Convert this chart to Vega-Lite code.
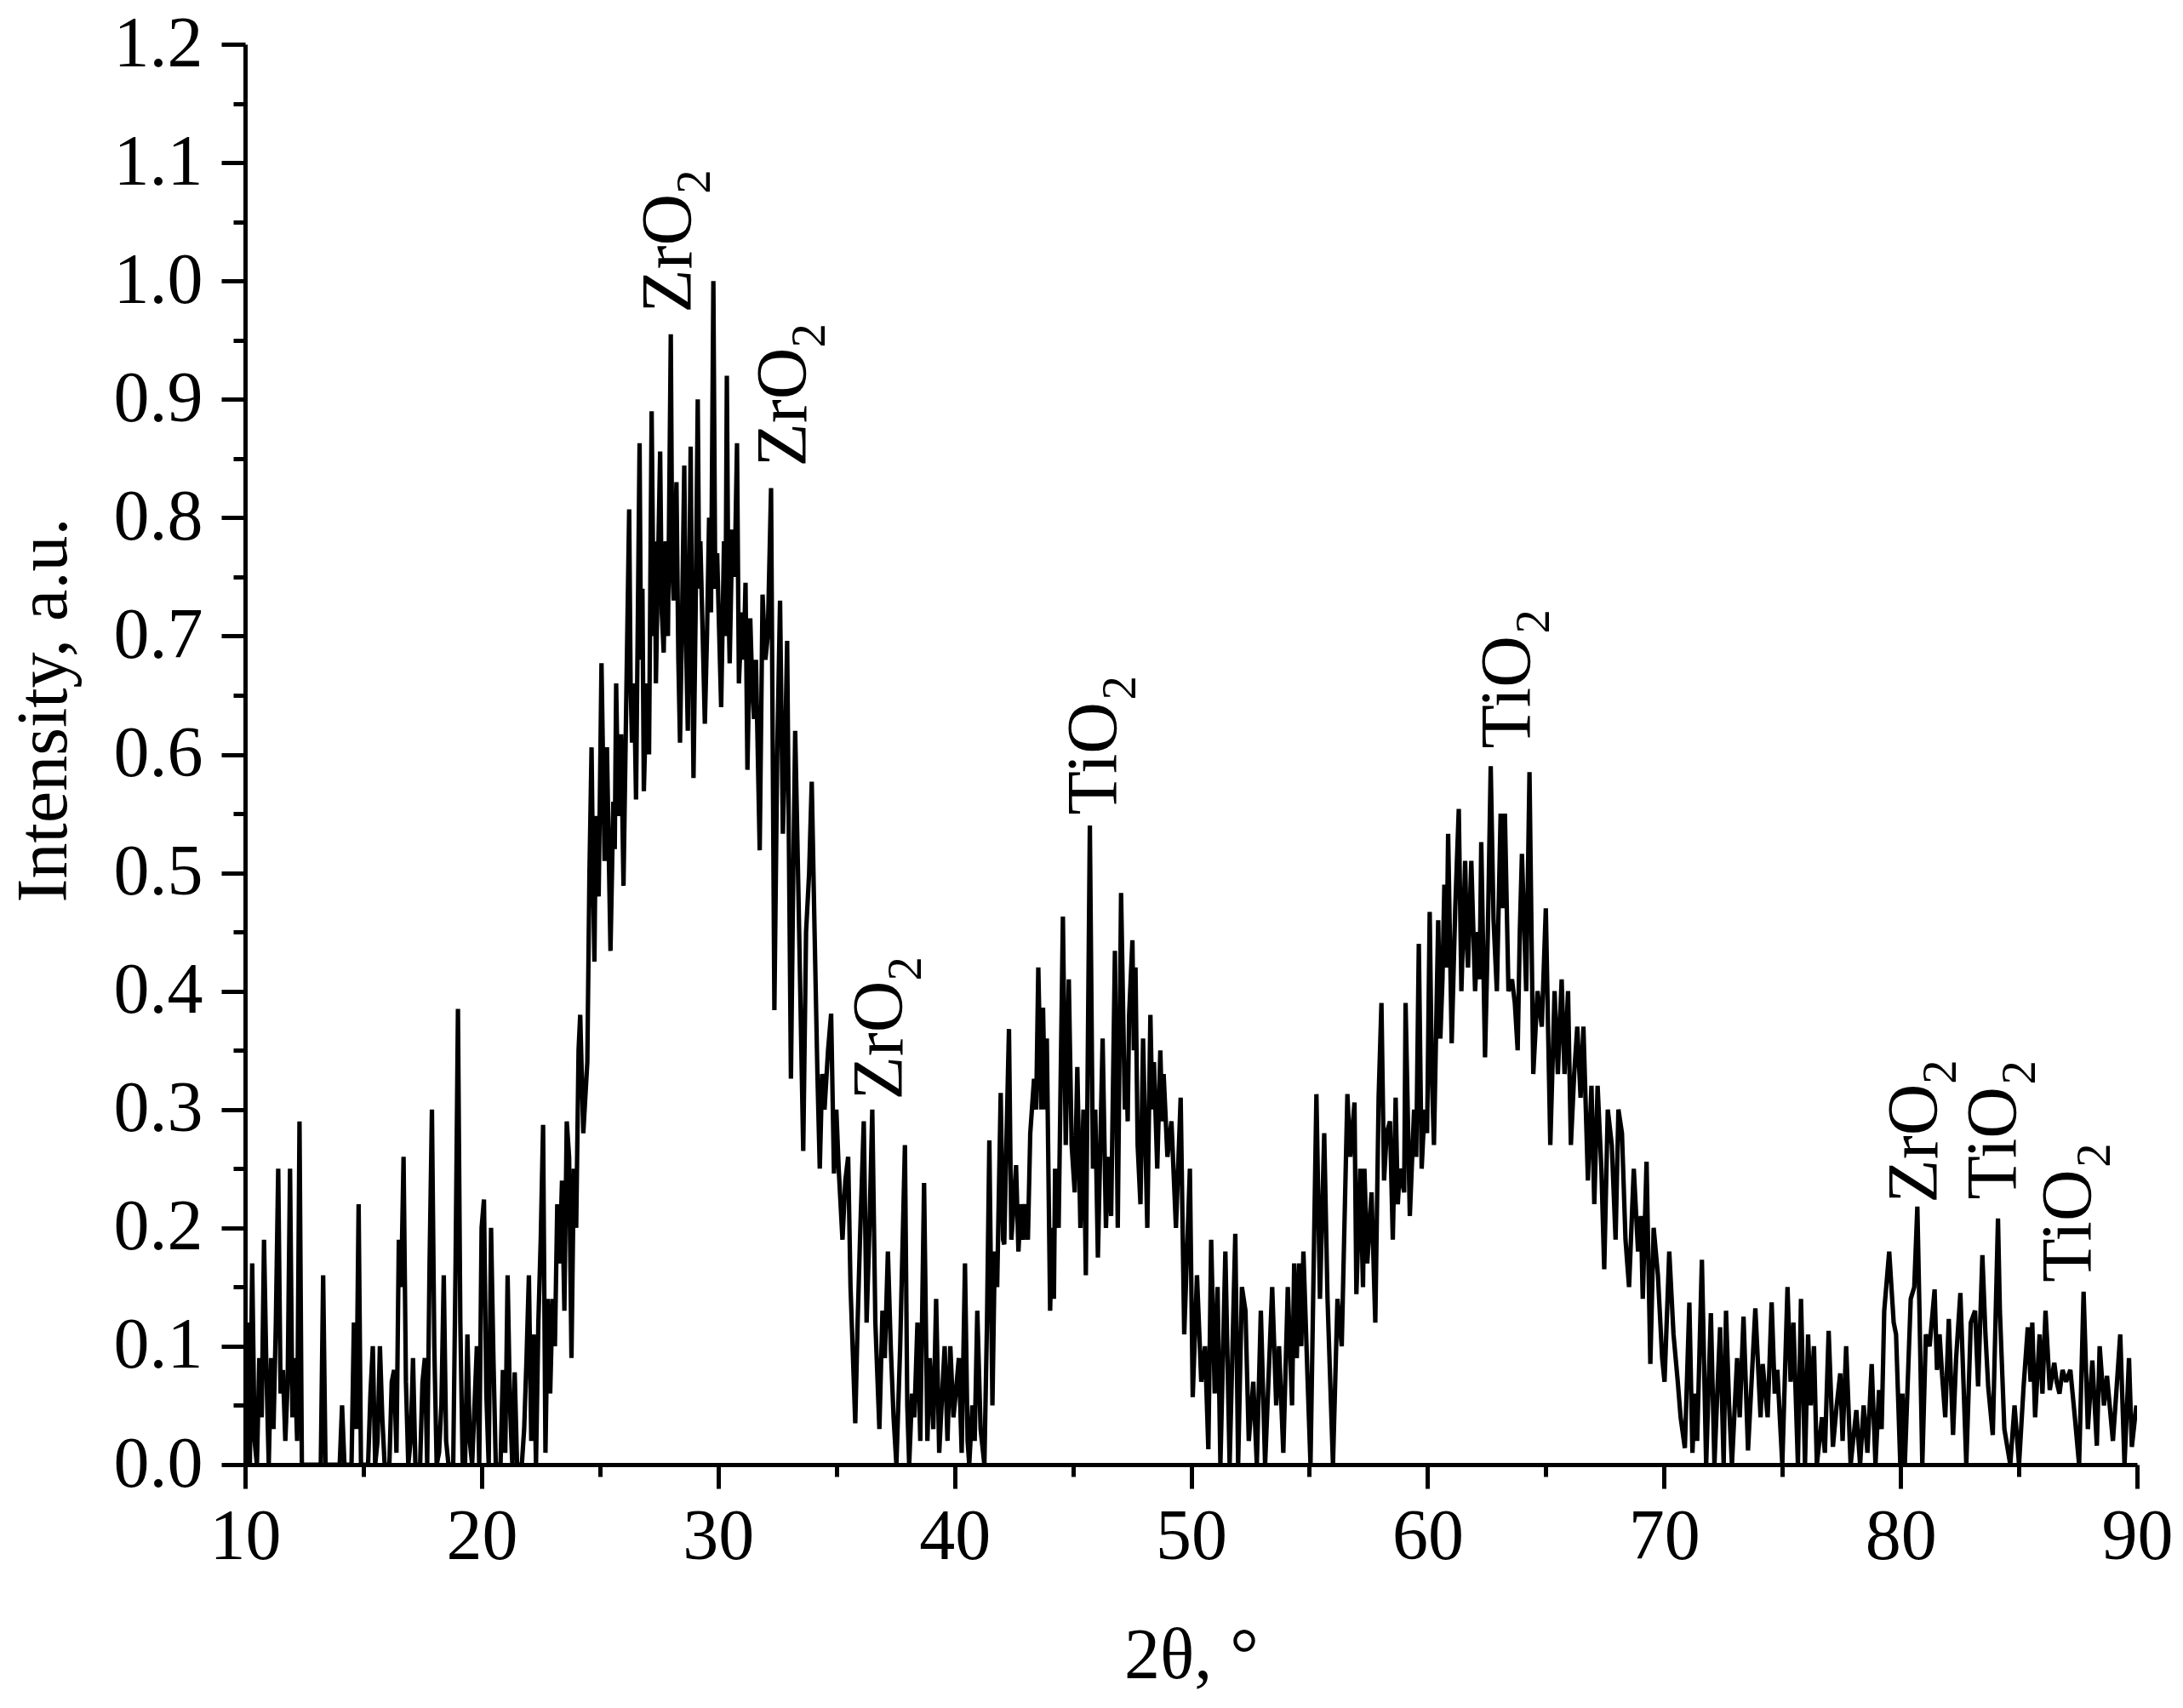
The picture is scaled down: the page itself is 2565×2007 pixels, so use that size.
{
  "$schema": "https://vega.github.io/schema/vega-lite/v6.json",
  "width": 2223,
  "height": 1669,
  "autosize": {"type": "none"},
  "padding": {"left": 288, "top": 52, "right": 54, "bottom": 286},
  "background": "white",
  "config": {
    "view": {"stroke": null},
    "font": "Liberation Serif",
    "axis": {"grid": false, "domainColor": "black", "tickColor": "black", "labelColor": "black", "titleColor": "black", "labelFont": "Liberation Serif", "titleFont": "Liberation Serif", "domainWidth": 5, "tickWidth": 5}
  },
  "datasets": {
    "xrd": [
      {"t":10.0,"v":0},{"t":10.1,"v":0.12},{"t":10.2,"v":0},{"t":10.3,"v":0.17},{"t":10.4,"v":0.02},{"t":10.5,"v":0},{"t":10.6,"v":0.09},{"t":10.7,"v":0.04},{"t":10.8,"v":0.19},{"t":10.9,"v":0.08},
      {"t":11.0,"v":0},{"t":11.1,"v":0.09},{"t":11.2,"v":0.03},{"t":11.3,"v":0.12},{"t":11.4,"v":0.25},{"t":11.5,"v":0.06},{"t":11.6,"v":0.08},{"t":11.7,"v":0.02},{"t":11.8,"v":0.07},{"t":11.9,"v":0.25},
      {"t":12.0,"v":0.04},{"t":12.1,"v":0.09},{"t":12.2,"v":0.02},{"t":12.3,"v":0.29},{"t":12.4,"v":0},{"t":13.2,"v":0},{"t":13.3,"v":0.16},{"t":13.4,"v":0},{"t":14.0,"v":0},{"t":14.1,"v":0.05},
      {"t":14.2,"v":0},{"t":14.5,"v":0},{"t":14.6,"v":0.12},{"t":14.7,"v":0.03},{"t":14.8,"v":0.22},{"t":14.9,"v":0},{"t":15.2,"v":0},{"t":15.3,"v":0.06},{"t":15.4,"v":0.1},{"t":15.5,"v":0},
      {"t":15.6,"v":0.02},{"t":15.7,"v":0.1},{"t":15.8,"v":0.04},{"t":15.9,"v":0},{"t":16.1,"v":0},{"t":16.2,"v":0.07},{"t":16.3,"v":0.08},{"t":16.4,"v":0.01},{"t":16.5,"v":0.19},{"t":16.6,"v":0.15},
      {"t":16.7,"v":0.26},{"t":16.8,"v":0.07},{"t":16.9,"v":0},{"t":17.0,"v":0.02},{"t":17.1,"v":0.09},{"t":17.2,"v":0},{"t":17.4,"v":0},{"t":17.5,"v":0.07},{"t":17.6,"v":0.09},{"t":17.7,"v":0},
      {"t":17.8,"v":0.17},{"t":17.9,"v":0.3},{"t":18.0,"v":0.1},{"t":18.1,"v":0},{"t":18.2,"v":0.01},{"t":18.3,"v":0.05},{"t":18.4,"v":0.16},{"t":18.5,"v":0.02},{"t":18.6,"v":0},{"t":18.8,"v":0},
      {"t":18.9,"v":0.17},{"t":19.0,"v":0.385},{"t":19.1,"v":0.12},{"t":19.2,"v":0},{"t":19.3,"v":0},{"t":19.4,"v":0.11},{"t":19.5,"v":0.02},{"t":19.6,"v":0},{"t":19.7,"v":0.05},{"t":19.8,"v":0.1},
      {"t":19.9,"v":0},{"t":20.0,"v":0.2},{"t":20.1,"v":0.224},{"t":20.2,"v":0.06},{"t":20.3,"v":0},{"t":20.4,"v":0.2},{"t":20.5,"v":0.09},{"t":20.6,"v":0},{"t":20.8,"v":0},{"t":20.9,"v":0.08},
      {"t":21.0,"v":0.01},{"t":21.1,"v":0.16},{"t":21.2,"v":0.05},{"t":21.3,"v":0},{"t":21.4,"v":0.078},{"t":21.5,"v":0},{"t":21.7,"v":0},{"t":21.8,"v":0.03},{"t":21.9,"v":0.09},{"t":22.0,"v":0.16},
      {"t":22.1,"v":0.02},{"t":22.2,"v":0.11},{"t":22.3,"v":0},{"t":22.4,"v":0.12},{"t":22.5,"v":0.19},{"t":22.6,"v":0.287},{"t":22.7,"v":0.01},{"t":22.8,"v":0.14},{"t":22.9,"v":0.06},{"t":23.0,"v":0.14},
      {"t":23.1,"v":0.1},{"t":23.2,"v":0.22},{"t":23.3,"v":0.17},{"t":23.4,"v":0.24},{"t":23.5,"v":0.13},{"t":23.6,"v":0.29},{"t":23.7,"v":0.26},{"t":23.8,"v":0.09},{"t":23.9,"v":0.25},{"t":24.0,"v":0.2},
      {"t":24.1,"v":0.35},{"t":24.17,"v":0.38},{"t":24.3,"v":0.28},{"t":24.47,"v":0.34},{"t":24.56,"v":0.5},{"t":24.65,"v":0.606},{"t":24.71,"v":0.5},{"t":24.77,"v":0.425},{"t":24.83,"v":0.548},{"t":24.95,"v":0.48},{"t":25.07,"v":0.677},
      {"t":25.2,"v":0.51},{"t":25.3,"v":0.606},{"t":25.45,"v":0.434},{"t":25.57,"v":0.56},{"t":25.63,"v":0.52},{"t":25.69,"v":0.66},{"t":25.78,"v":0.548},{"t":25.9,"v":0.617},{"t":26.0,"v":0.489},{"t":26.12,"v":0.65},{"t":26.24,"v":0.807},
      {"t":26.3,"v":0.66},{"t":26.36,"v":0.61},{"t":26.45,"v":0.66},{"t":26.53,"v":0.562},{"t":26.68,"v":0.863},{"t":26.74,"v":0.68},{"t":26.8,"v":0.74},{"t":26.86,"v":0.569},{"t":26.98,"v":0.66},{"t":27.08,"v":0.6},{"t":27.19,"v":0.89},{"t":27.28,"v":0.7},{"t":27.33,"v":0.78},{"t":27.37,"v":0.66},
      {"t":27.45,"v":0.75},{"t":27.55,"v":0.856},{"t":27.62,"v":0.72},{"t":27.7,"v":0.686},{"t":27.78,"v":0.78},{"t":27.88,"v":0.7},{"t":28.0,"v":0.955},{"t":28.06,"v":0.76},{"t":28.12,"v":0.73},{"t":28.24,"v":0.83},{"t":28.32,"v":0.68},{"t":28.39,"v":0.61},
      {"t":28.48,"v":0.72},{"t":28.57,"v":0.844},{"t":28.64,"v":0.7},{"t":28.72,"v":0.62},{"t":28.84,"v":0.86},{"t":28.9,"v":0.7},{"t":28.96,"v":0.58},{"t":29.05,"v":0.72},{"t":29.14,"v":0.9},{"t":29.2,"v":0.74},{"t":29.25,"v":0.78},{"t":29.35,"v":0.7},
      {"t":29.44,"v":0.626},{"t":29.53,"v":0.7},{"t":29.62,"v":0.8},{"t":29.7,"v":0.72},{"t":29.8,"v":1.0},{"t":29.88,"v":0.74},{"t":29.96,"v":0.77},{"t":30.05,"v":0.7},{"t":30.13,"v":0.64},{"t":30.25,"v":0.78},{"t":30.31,"v":0.7},{"t":30.37,"v":0.92},{"t":30.43,"v":0.74},{"t":30.49,"v":0.677},
      {"t":30.6,"v":0.79},{"t":30.7,"v":0.75},{"t":30.8,"v":0.863},{"t":30.88,"v":0.66},{"t":31.0,"v":0.72},{"t":31.08,"v":0.68},{"t":31.16,"v":0.745},{"t":31.24,"v":0.587},{"t":31.36,"v":0.715},{"t":31.44,"v":0.66},
      {"t":31.52,"v":0.63},{"t":31.6,"v":0.68},{"t":31.76,"v":0.519},{"t":31.88,"v":0.735},{"t":32.0,"v":0.68},{"t":32.1,"v":0.7},{"t":32.24,"v":0.825},{"t":32.38,"v":0.384},{"t":32.5,"v":0.6},{"t":32.62,"v":0.73},
      {"t":32.74,"v":0.533},{"t":32.85,"v":0.62},{"t":32.92,"v":0.696},{"t":33.08,"v":0.326},{"t":33.18,"v":0.5},{"t":33.26,"v":0.62},{"t":33.4,"v":0.48},{"t":33.6,"v":0.265},{"t":33.72,"v":0.45},{"t":33.85,"v":0.5},
      {"t":33.96,"v":0.577},{"t":34.08,"v":0.45},{"t":34.2,"v":0.33},{"t":34.3,"v":0.25},{"t":34.4,"v":0.33},{"t":34.5,"v":0.3},{"t":34.65,"v":0.35},{"t":34.78,"v":0.381},{"t":34.9,"v":0.246},{"t":35.0,"v":0.3},
      {"t":35.1,"v":0.25},{"t":35.26,"v":0.19},{"t":35.38,"v":0.24},{"t":35.5,"v":0.26},{"t":35.6,"v":0.15},{"t":35.8,"v":0.035},{"t":35.9,"v":0.12},{"t":36.0,"v":0.19},{"t":36.16,"v":0.29},{"t":36.28,"v":0.12},
      {"t":36.4,"v":0.2},{"t":36.52,"v":0.3},{"t":36.65,"v":0.12},{"t":36.82,"v":0.03},{"t":36.95,"v":0.13},{"t":37.05,"v":0.09},{"t":37.18,"v":0.18},{"t":37.3,"v":0.1},{"t":37.42,"v":0.04},{"t":37.54,"v":0},
      {"t":37.7,"v":0.1},{"t":37.9,"v":0.27},{"t":38.0,"v":0.05},{"t":38.08,"v":0},{"t":38.2,"v":0.06},{"t":38.3,"v":0.04},{"t":38.43,"v":0.12},{"t":38.55,"v":0.02},{"t":38.71,"v":0.238},{"t":38.85,"v":0.02},
      {"t":38.95,"v":0.09},{"t":39.1,"v":0.03},{"t":39.22,"v":0.14},{"t":39.35,"v":0.01},{"t":39.45,"v":0.05},{"t":39.58,"v":0.1},{"t":39.7,"v":0.02},{"t":39.82,"v":0.1},{"t":39.95,"v":0.04},{"t":40.05,"v":0.06},
      {"t":40.18,"v":0.09},{"t":40.3,"v":0.01},{"t":40.44,"v":0.17},{"t":40.55,"v":0.02},{"t":40.62,"v":0},{"t":40.75,"v":0.05},{"t":40.85,"v":0.02},{"t":40.96,"v":0.13},{"t":41.1,"v":0.03},{"t":41.26,"v":0},
      {"t":41.37,"v":0.12},{"t":41.47,"v":0.274},{"t":41.6,"v":0.05},{"t":41.7,"v":0.18},{"t":41.8,"v":0.15},{"t":41.95,"v":0.314},{"t":42.05,"v":0.19},{"t":42.1,"v":0.186},{"t":42.2,"v":0.28},{"t":42.3,"v":0.368},
      {"t":42.4,"v":0.19},{"t":42.5,"v":0.22},{"t":42.6,"v":0.253},{"t":42.7,"v":0.18},{"t":42.8,"v":0.22},{"t":42.9,"v":0.19},{"t":42.99,"v":0.22},{"t":43.1,"v":0.19},{"t":43.2,"v":0.28},{"t":43.36,"v":0.326},
      {"t":43.45,"v":0.3},{"t":43.54,"v":0.42},{"t":43.6,"v":0.36},{"t":43.67,"v":0.3},{"t":43.74,"v":0.386},{"t":43.82,"v":0.3},{"t":43.9,"v":0.36},{"t":44.04,"v":0.13},{"t":44.12,"v":0.2},{"t":44.2,"v":0.14},{"t":44.25,"v":0.25},{"t":44.4,"v":0.2},{"t":44.58,"v":0.463},
      {"t":44.7,"v":0.27},{"t":44.83,"v":0.41},{"t":44.95,"v":0.27},{"t":45.08,"v":0.23},{"t":45.19,"v":0.336},{"t":45.32,"v":0.2},{"t":45.45,"v":0.3},{"t":45.55,"v":0.16},{"t":45.72,"v":0.54},{"t":45.85,"v":0.25},
      {"t":45.95,"v":0.3},{"t":46.06,"v":0.175},{"t":46.26,"v":0.36},{"t":46.4,"v":0.2},{"t":46.5,"v":0.26},{"t":46.62,"v":0.21},{"t":46.78,"v":0.434},{"t":46.9,"v":0.2},{"t":47.04,"v":0.483},{"t":47.2,"v":0.3},{"t":47.26,"v":0.34},
      {"t":47.32,"v":0.29},{"t":47.38,"v":0.38},{"t":47.52,"v":0.443},{"t":47.58,"v":0.35},{"t":47.65,"v":0.42},{"t":47.74,"v":0.27},{"t":47.86,"v":0.22},{"t":47.97,"v":0.36},{"t":48.15,"v":0.2},{"t":48.28,"v":0.38},{"t":48.36,"v":0.3},{"t":48.43,"v":0.34},{"t":48.57,"v":0.25},
      {"t":48.7,"v":0.35},{"t":48.78,"v":0.29},{"t":48.84,"v":0.33},{"t":49.0,"v":0.26},{"t":49.17,"v":0.29},{"t":49.36,"v":0.2},{"t":49.56,"v":0.31},{"t":49.71,"v":0.11},{"t":49.95,"v":0.25},{"t":50.07,"v":0.057},{"t":50.25,"v":0.16},
      {"t":50.43,"v":0.07},{"t":50.59,"v":0.1},{"t":50.73,"v":0.013},{"t":50.85,"v":0.19},{"t":51.0,"v":0.06},{"t":51.12,"v":0.15},{"t":51.24,"v":0},{"t":51.45,"v":0.18},{"t":51.63,"v":0},{"t":51.87,"v":0.195},
      {"t":51.99,"v":0},{"t":52.15,"v":0.15},{"t":52.3,"v":0.13},{"t":52.44,"v":0.02},{"t":52.63,"v":0.07},{"t":52.78,"v":0},{"t":52.95,"v":0.13},{"t":53.13,"v":0},{"t":53.43,"v":0.15},{"t":53.6,"v":0.05},
      {"t":53.72,"v":0.1},{"t":53.9,"v":0.01},{"t":54.09,"v":0.15},{"t":54.27,"v":0.05},{"t":54.36,"v":0.17},{"t":54.47,"v":0.09},{"t":54.57,"v":0.17},{"t":54.66,"v":0.1},{"t":54.75,"v":0.18},{"t":54.93,"v":0.07},{"t":55.05,"v":0},{"t":55.3,"v":0.313},
      {"t":55.45,"v":0.14},{"t":55.63,"v":0.28},{"t":55.77,"v":0.14},{"t":56.0,"v":0},{"t":56.19,"v":0.14},{"t":56.37,"v":0.1},{"t":56.61,"v":0.313},{"t":56.73,"v":0.26},{"t":56.91,"v":0.306},{"t":56.99,"v":0.144},
      {"t":57.15,"v":0.25},{"t":57.27,"v":0.15},{"t":57.33,"v":0.25},{"t":57.45,"v":0.17},{"t":57.63,"v":0.23},{"t":57.79,"v":0.12},{"t":57.93,"v":0.31},{"t":58.05,"v":0.39},{"t":58.16,"v":0.24},{"t":58.27,"v":0.28},{"t":58.41,"v":0.29},
      {"t":58.53,"v":0.19},{"t":58.65,"v":0.31},{"t":58.74,"v":0.22},{"t":58.83,"v":0.25},{"t":59.01,"v":0.23},{"t":59.07,"v":0.39},{"t":59.25,"v":0.21},{"t":59.43,"v":0.3},{"t":59.52,"v":0.26},{"t":59.63,"v":0.44},{"t":59.75,"v":0.25},{"t":59.87,"v":0.3},
      {"t":59.98,"v":0.28},{"t":60.09,"v":0.467},{"t":60.18,"v":0.33},{"t":60.27,"v":0.27},{"t":60.45,"v":0.46},{"t":60.54,"v":0.36},{"t":60.63,"v":0.41},{"t":60.71,"v":0.49},{"t":60.8,"v":0.42},{"t":60.87,"v":0.533},{"t":61.02,"v":0.356},{"t":61.17,"v":0.47},{"t":61.32,"v":0.554},{"t":61.43,"v":0.4},
      {"t":61.59,"v":0.51},{"t":61.66,"v":0.44},{"t":61.71,"v":0.42},{"t":61.85,"v":0.51},{"t":62.01,"v":0.4},{"t":62.13,"v":0.45},{"t":62.2,"v":0.41},{"t":62.27,"v":0.526},{"t":62.43,"v":0.344},{"t":62.55,"v":0.45},{"t":62.67,"v":0.59},{"t":62.79,"v":0.46},{"t":62.93,"v":0.4},
      {"t":63.09,"v":0.55},{"t":63.18,"v":0.47},{"t":63.27,"v":0.55},{"t":63.42,"v":0.4},{"t":63.57,"v":0.41},{"t":63.69,"v":0.39},{"t":63.81,"v":0.35},{"t":63.9,"v":0.45},{"t":63.99,"v":0.516},{"t":64.17,"v":0.4},{"t":64.31,"v":0.585},{"t":64.47,"v":0.33},
      {"t":64.65,"v":0.4},{"t":64.83,"v":0.37},{"t":65.0,"v":0.47},{"t":65.19,"v":0.27},{"t":65.37,"v":0.4},{"t":65.51,"v":0.33},{"t":65.67,"v":0.41},{"t":65.79,"v":0.33},{"t":65.94,"v":0.4},{"t":66.06,"v":0.27},
      {"t":66.2,"v":0.33},{"t":66.33,"v":0.37},{"t":66.47,"v":0.31},{"t":66.59,"v":0.37},{"t":66.78,"v":0.24},{"t":66.93,"v":0.32},{"t":67.05,"v":0.22},{"t":67.19,"v":0.32},{"t":67.35,"v":0.25},{"t":67.47,"v":0.165},{"t":67.62,"v":0.3},
      {"t":67.79,"v":0.27},{"t":67.95,"v":0.19},{"t":68.07,"v":0.3},{"t":68.22,"v":0.28},{"t":68.37,"v":0.19},{"t":68.52,"v":0.15},{"t":68.72,"v":0.25},{"t":68.9,"v":0.18},{"t":69.02,"v":0.21},{"t":69.1,"v":0.14},
      {"t":69.26,"v":0.256},{"t":69.42,"v":0.085},{"t":69.56,"v":0.2},{"t":69.74,"v":0.16},{"t":69.92,"v":0.09},{"t":70.02,"v":0.07},{"t":70.22,"v":0.18},{"t":70.4,"v":0.11},{"t":70.58,"v":0.07},{"t":70.7,"v":0.04},
      {"t":70.88,"v":0.014},{"t":71.07,"v":0.137},{"t":71.2,"v":0.01},{"t":71.3,"v":0.06},{"t":71.4,"v":0.02},{"t":71.6,"v":0.173},{"t":71.78,"v":0},{"t":71.98,"v":0.128},{"t":72.13,"v":0},{"t":72.25,"v":0.06},
      {"t":72.37,"v":0.116},{"t":72.52,"v":0},{"t":72.62,"v":0.13},{"t":72.75,"v":0.05},{"t":72.87,"v":0},{"t":73.09,"v":0.09},{"t":73.2,"v":0.04},{"t":73.36,"v":0.125},{"t":73.55,"v":0.012},{"t":73.7,"v":0.07},
      {"t":73.86,"v":0.132},{"t":74.08,"v":0.04},{"t":74.17,"v":0.085},{"t":74.38,"v":0.04},{"t":74.55,"v":0.137},{"t":74.68,"v":0.06},{"t":74.79,"v":0.08},{"t":75.0,"v":0},{"t":75.22,"v":0.15},{"t":75.35,"v":0.07},
      {"t":75.47,"v":0.12},{"t":75.66,"v":0},{"t":75.79,"v":0.14},{"t":75.96,"v":0},{"t":76.09,"v":0.11},{"t":76.2,"v":0.05},{"t":76.34,"v":0.1},{"t":76.46,"v":0},{"t":76.68,"v":0.04},{"t":76.8,"v":0.01},
      {"t":76.96,"v":0.113},{"t":77.14,"v":0.015},{"t":77.3,"v":0.05},{"t":77.45,"v":0.077},{"t":77.55,"v":0.02},{"t":77.7,"v":0.1},{"t":77.89,"v":0},{"t":78.13,"v":0.046},{"t":78.29,"v":0},{"t":78.44,"v":0.05},
      {"t":78.6,"v":0.01},{"t":78.78,"v":0.085},{"t":78.94,"v":0},{"t":79.09,"v":0.063},{"t":79.2,"v":0.03},{"t":79.31,"v":0.13},{"t":79.52,"v":0.18},{"t":79.71,"v":0.12},{"t":79.81,"v":0.11},{"t":79.99,"v":0},
      {"t":80.08,"v":0.06},{"t":80.18,"v":0},{"t":80.43,"v":0.14},{"t":80.58,"v":0.15},{"t":80.71,"v":0.218},{"t":80.8,"v":0.13},{"t":80.92,"v":0},{"t":81.07,"v":0.11},{"t":81.23,"v":0.1},{"t":81.44,"v":0.148},
      {"t":81.54,"v":0.08},{"t":81.65,"v":0.11},{"t":81.76,"v":0.075},{"t":81.89,"v":0.04},{"t":82.04,"v":0.123},{"t":82.22,"v":0.025},{"t":82.35,"v":0.09},{"t":82.53,"v":0.145},{"t":82.78,"v":0},{"t":82.97,"v":0.12},
      {"t":83.15,"v":0.13},{"t":83.28,"v":0.066},{"t":83.46,"v":0.177},{"t":83.59,"v":0.11},{"t":83.71,"v":0.065},{"t":83.9,"v":0.025},{"t":84.12,"v":0.208},{"t":84.2,"v":0.13},{"t":84.39,"v":0.03},{"t":84.64,"v":0},
      {"t":84.82,"v":0.05},{"t":85.01,"v":0},{"t":85.2,"v":0.065},{"t":85.38,"v":0.116},{"t":85.5,"v":0.07},{"t":85.57,"v":0.12},{"t":85.69,"v":0.04},{"t":85.88,"v":0.11},{"t":86.0,"v":0.06},{"t":86.13,"v":0.13},
      {"t":86.31,"v":0.063},{"t":86.5,"v":0.086},{"t":86.6,"v":0.07},{"t":86.72,"v":0.06},{"t":86.85,"v":0.08},{"t":87.0,"v":0.07},{"t":87.18,"v":0.08},{"t":87.37,"v":0.04},{"t":87.55,"v":0},{"t":87.74,"v":0.146},
      {"t":87.92,"v":0.03},{"t":88.11,"v":0.088},{"t":88.3,"v":0.016},{"t":88.42,"v":0.1},{"t":88.6,"v":0.05},{"t":88.73,"v":0.075},{"t":88.98,"v":0.02},{"t":89.12,"v":0.06},{"t":89.29,"v":0.11},{"t":89.47,"v":0},
      {"t":89.66,"v":0.09},{"t":89.78,"v":0.015},{"t":89.97,"v":0.05}
    ],
    "labels": [
      {"t":28.86,"v":0.973,"base":"ZrO","sub":"2","el":"Zr"},
      {"t":33.7,"v":0.843,"base":"ZrO","sub":"2","el":"Zr"},
      {"t":37.78,"v":0.308,"base":"ZrO","sub":"2","el":"Zr"},
      {"t":46.85,"v":0.549,"base":"TiO","sub":"2","el":"Ti"},
      {"t":64.34,"v":0.605,"base":"TiO","sub":"2","el":"Ti"},
      {"t":81.54,"v":0.221,"base":"ZrO","sub":"2","el":"Zr"},
      {"t":84.88,"v":0.224,"base":"TiO","sub":"2","el":"Ti"},
      {"t":88.05,"v":0.154,"base":"TiO","sub":"2","el":"Ti"}
    ]
  },
  "resolve": {"axis": {"x": "independent", "y": "independent"}},
  "layer": [
    {
      "data": {"name": "xrd"},
      "mark": {"type": "line", "color": "black", "strokeWidth": 5.2, "strokeJoin": "bevel", "clip": true},
      "encoding": {
        "x": {"field": "t", "type": "quantitative", "scale": {"domain": [10, 90], "nice": false, "zero": false},
          "axis": {"orient": "bottom", "values": [10,20,30,40,50,60,70,80,90], "tickSize": 28, "labelFontSize": 84, "labelPadding": 16, "labelFlush": false,
            "title": "2θ, °", "titleFontSize": 84, "titleFontWeight": "normal", "titleY": 250, "titleBaseline": "alphabetic"}},
        "y": {"field": "v", "type": "quantitative", "scale": {"domain": [0, 1.2], "nice": false, "zero": false},
          "axis": {"orient": "left", "values": [0,0.1,0.2,0.3,0.4,0.5,0.6,0.7,0.8,0.9,1.0,1.1,1.2], "format": ".1f", "tickSize": 28, "labelFontSize": 84, "labelPadding": 22, "labelFlush": false,
            "title": "Intensity, a.u.", "titleFontSize": 84, "titleFontWeight": "normal", "titleX": -211, "titleY": 782, "titleAngle": 270, "titleAlign": "center", "titleBaseline": "alphabetic"}}
      }
    },
    {
      "data": {"name": "labels"},
      "mark": {"type": "text", "angle": 270, "align": "left", "baseline": "alphabetic", "fontSize": 84, "font": "Liberation Serif", "color": "black"},
      "encoding": {
        "x": {"field": "t", "type": "quantitative", "scale": {"domain": [10, 90], "nice": false, "zero": false},
          "axis": {"orient": "bottom", "values": [15,25,35,45,55,65,75,85], "tickSize": 14, "labels": false, "domain": false, "title": null}},
        "y": {"field": "v", "type": "quantitative", "scale": {"domain": [0, 1.2], "nice": false, "zero": false},
          "axis": {"orient": "left", "values": [0.05,0.15,0.25,0.35,0.45,0.55,0.65,0.75,0.85,0.95,1.05,1.15], "tickSize": 14, "labels": false, "domain": false, "title": null}},
        "text": {"field": "base"}
      }
    },
    {
      "data": {"name": "labels"},
      "transform": [{"filter": "datum.el === 'Zr'"}],
      "mark": {"type": "text", "angle": 270, "align": "left", "baseline": "alphabetic", "fontSize": 57, "font": "Liberation Serif", "color": "black", "dx": 140, "dy": 22},
      "encoding": {
        "x": {"field": "t", "type": "quantitative", "scale": {"domain": [10, 90], "nice": false, "zero": false}, "axis": null},
        "y": {"field": "v", "type": "quantitative", "scale": {"domain": [0, 1.2], "nice": false, "zero": false}, "axis": null},
        "text": {"field": "sub"}
      }
    },
    {
      "data": {"name": "labels"},
      "transform": [{"filter": "datum.el === 'Ti'"}],
      "mark": {"type": "text", "angle": 270, "align": "left", "baseline": "alphabetic", "fontSize": 57, "font": "Liberation Serif", "color": "black", "dx": 135, "dy": 22},
      "encoding": {
        "x": {"field": "t", "type": "quantitative", "scale": {"domain": [10, 90], "nice": false, "zero": false}, "axis": null},
        "y": {"field": "v", "type": "quantitative", "scale": {"domain": [0, 1.2], "nice": false, "zero": false}, "axis": null},
        "text": {"field": "sub"}
      }
    }
  ]
}
